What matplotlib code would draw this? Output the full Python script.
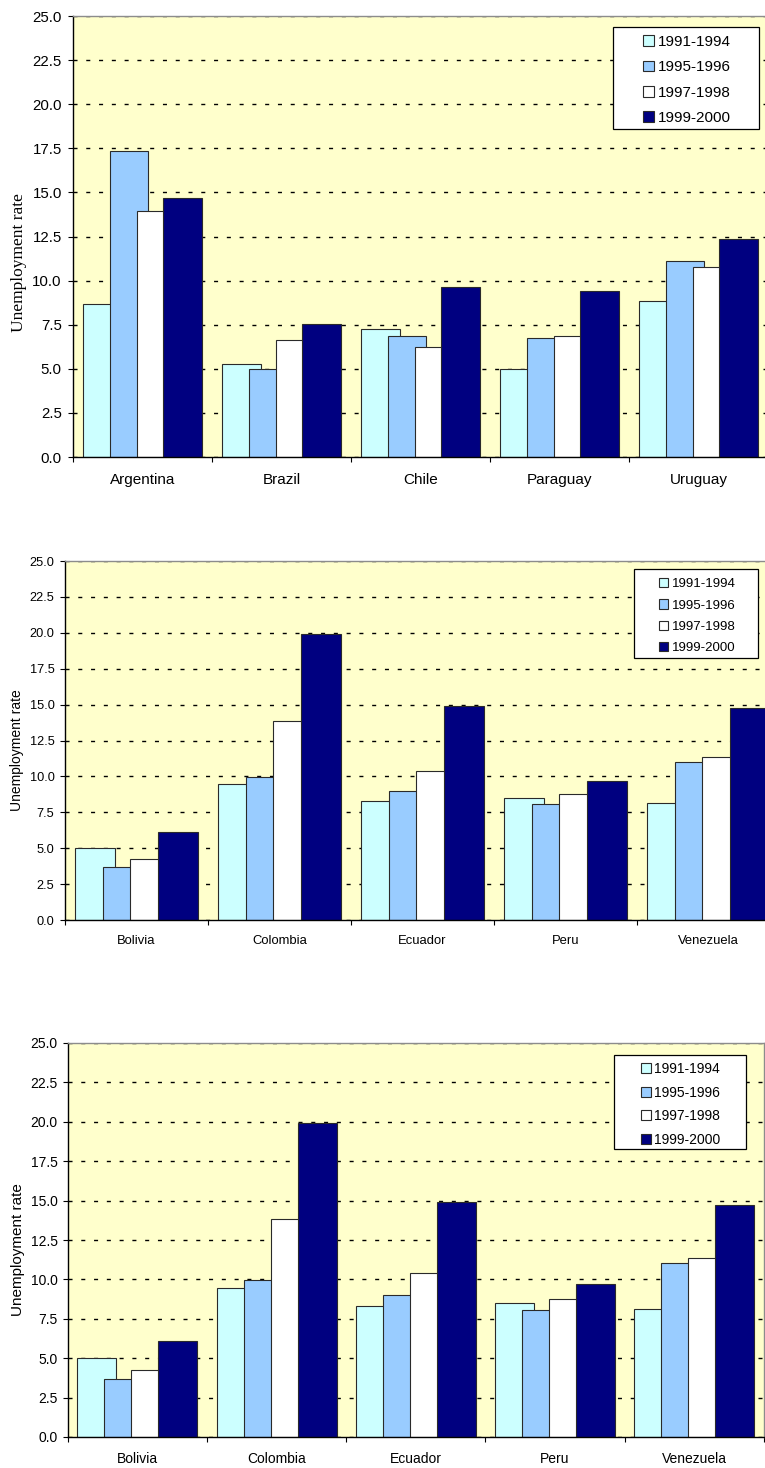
import numpy as np
import matplotlib
matplotlib.use("Agg")
import matplotlib.pyplot as plt
from matplotlib.patches import Rectangle

# unemployment rates by period, two country groups
periods = ['1991-1994', '1995-1996', '1997-1998', '1999-2000']

countries_south = ['Argentina', 'Brazil', 'Chile', 'Paraguay', 'Uruguay']
rate91_south = [8.66, 5.30, 7.28, 4.97, 8.85]
rate95_south = [17.36, 4.99, 6.88, 6.75, 11.10]
rate97_south = [13.92, 6.64, 6.24, 6.85, 10.78]
rate99_south = [14.71, 7.56, 9.61, 9.40, 12.37]

countries_andean = ['Bolivia', 'Colombia', 'Ecuador', 'Peru', 'Venezuela']
rate91_andean = [5.04, 9.47, 8.31, 8.52, 8.12]
rate95_andean = [3.69, 9.98, 9.01, 8.05, 11.03]
rate97_andean = [4.22, 13.83, 10.40, 8.77, 11.33]
rate99_andean = [6.10, 19.92, 14.90, 9.68, 14.74]

yticks = [0, 2.5, 5, 7.5, 10, 12.5, 15, 17.5, 20, 22.5, 25]

colors = ['#ccffff', '#99ccff', '#ffffff', '#000080']
W, H = 765, 1468

fig = plt.figure(figsize=(W / 100, H / 100), dpi=100)


def px_box(left, top, right, bottom):
    return [left / W, 1 - bottom / H, (right - left) / W, (bottom - top) / H]


def panel(box, countries, series, fs_tick, fs_xlab, fs_leg, ylab_font, fs_ylab,
          ylab_pos, xpad, ypad, leg_frame, leg_x, leg_y, leg_space):
    ax = fig.add_axes(px_box(*box))
    ax.set_facecolor('#ffffcc')
    x = np.arange(len(countries))
    offsets = [-0.291, -0.097, 0.097, 0.291]
    bars = []
    for vals, off, c in zip(series, offsets, colors):
        b = ax.bar(x + off, vals, width=0.28, color=c, edgecolor='#2a2a2a',
                   linewidth=0.8)
        bars.append(b)

    ax.set_xlim(-0.5, len(countries) - 0.5)
    ax.set_ylim(0, 25)
    ax.set_yticks(yticks)
    ax.set_yticklabels([f'{v:.1f}' for v in yticks], fontsize=fs_tick,
                       family='Liberation Sans')
    ax.tick_params(axis='y', direction='out', length=3.6, width=0.8, pad=ypad)

    ax.set_xticks(np.arange(len(countries) + 1) - 0.5)
    ax.set_xticklabels([])
    ax.set_xticks(x, minor=True)
    ax.set_xticklabels(countries, minor=True, fontsize=fs_xlab,
                       family='Liberation Sans')
    ax.tick_params(axis='x', which='major', direction='out', length=3.6, width=0.8)
    ax.tick_params(axis='x', which='minor', length=0, pad=xpad)

    ax.set_axisbelow(True)
    ax.yaxis.grid(True, color='black', linewidth=1.0, dashes=(2.9, 6.3))

    for s in ['left', 'bottom']:
        ax.spines[s].set_color('black')
        ax.spines[s].set_linewidth(1.0)
    for s in ['top', 'right']:
        ax.spines[s].set_color('#8c8c8c')
        ax.spines[s].set_linewidth(1.0)

    ax.set_ylabel('Unemployment rate', family=ylab_font, fontsize=fs_ylab)
    ax.yaxis.set_label_coords(*ylab_pos)

    # legend box, then frameless entries inside it
    l, t, r, b = leg_frame
    ax.add_patch(Rectangle((l / W, 1 - b / H), (r - l) / W, (b - t) / H,
                           transform=fig.transFigure, facecolor='white',
                           edgecolor='black', linewidth=0.9, zorder=4,
                           clip_on=False))
    leg = ax.legend(bars, periods, loc='upper left',
                    bbox_to_anchor=(leg_x / W, 1 - leg_y / H),
                    bbox_transform=fig.transFigure, frameon=False,
                    borderpad=0, borderaxespad=0, handlelength=0.7,
                    handleheight=0.7, handletextpad=0.25,
                    labelspacing=leg_space,
                    prop={'family': 'Liberation Sans', 'size': fs_leg})
    leg.set_zorder(5)
    return ax


panel((73, 16, 768, 457), countries_south,
      [rate91_south, rate95_south, rate97_south, rate99_south],
      fs_tick=10.8, fs_xlab=11, fs_leg=11, ylab_font='Liberation Serif',
      fs_ylab=12.5, ylab_pos=(-0.066, 0.44), xpad=11.5, ypad=4.5,
      leg_frame=(613, 27, 759, 129), leg_x=643, leg_y=35, leg_space=0.74)

panel((65, 561, 780, 920), countries_andean,
      [rate91_andean, rate95_andean, rate97_andean, rate99_andean],
      fs_tick=9.2, fs_xlab=9.4, fs_leg=9.5, ylab_font='Liberation Sans',
      fs_ylab=10, ylab_pos=(-0.057, 0.474), xpad=10.5, ypad=4,
      leg_frame=(634, 569, 758, 658), leg_x=659, leg_y=578, leg_space=0.69)

panel((67.7, 1043, 764, 1437), countries_andean,
      [rate91_andean, rate95_andean, rate97_andean, rate99_andean],
      fs_tick=10, fs_xlab=10, fs_leg=10, ylab_font='Liberation Sans',
      fs_ylab=11, ylab_pos=(-0.061, 0.475), xpad=11, ypad=3.6,
      leg_frame=(614, 1055, 746, 1149), leg_x=641, leg_y=1062, leg_space=0.69)

fig.savefig('out.png', dpi=100, facecolor='white')
